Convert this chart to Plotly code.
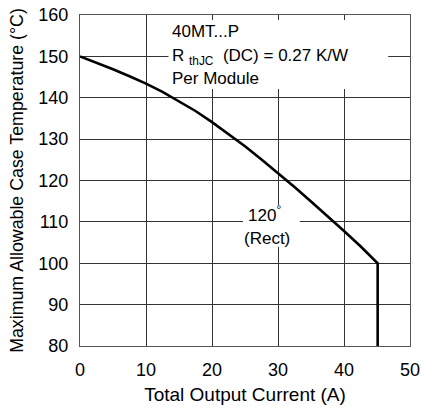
import plotly.graph_objects as go

current_a = [0, 2.5, 5, 7.5, 10, 12.5, 15, 17.5, 20, 22.5, 25, 27.5, 30, 32.5, 35, 37.5, 40, 42.5, 45.1, 45.1]
case_temp_c = [150, 148.5, 146.9, 145.2, 143.4, 141.4, 139.2, 136.8, 134.1, 131.3, 128.3, 125.1, 121.8, 118.4, 114.9, 111.4, 107.8, 104.1, 100, 80]

x_ticks = [0, 10, 20, 30, 40, 50]
y_ticks = [80, 90, 100, 110, 120, 130, 140, 150, 160]

FONT = "Liberation Sans, Arial, sans-serif"

fig = go.Figure()
fig.add_trace(go.Scatter(x=current_a, y=case_temp_c, mode="lines",
                         line=dict(color="black", width=2.6),
                         showlegend=False, hoverinfo="skip"))

fig.update_layout(
    width=422, height=412,
    margin=dict(l=80, r=12, t=15, b=66),
    paper_bgcolor="white", plot_bgcolor="white",
    font=dict(family=FONT, color="black"),
    xaxis=dict(range=[0, 50], tickvals=x_ticks, showgrid=True, gridcolor="#333",
               gridwidth=1, zeroline=False, showline=True, linecolor="#555",
               linewidth=1, mirror=True, ticks="outside", ticklen=7, tickcolor="white",
               tickfont=dict(size=18), automargin=False,
               title=dict(text="Total Output Current (A)", font=dict(size=19), standoff=9)),
    yaxis=dict(range=[80, 160], tickvals=y_ticks, showgrid=True, gridcolor="#333",
               gridwidth=1, zeroline=False, showline=True, linecolor="#555",
               linewidth=1, mirror=True, ticks="outside", ticklen=7, tickcolor="white",
               tickfont=dict(size=18), automargin=False,
               title=dict(text="Maximum Allowable Case Temperature (°C)",
                          font=dict(size=17.8), standoff=10)),
    shapes=[
        dict(type="rect", xref="x", yref="y", x0=13.4, x1=46.7, y0=142.1, y1=158.8,
             fillcolor="white", line=dict(width=0), layer="between"),
        dict(type="rect", xref="x", yref="y", x0=24.7, x1=33.3, y0=104.0, y1=114.1,
             fillcolor="white", line=dict(width=0), layer="between"),
    ],
    annotations=[
        dict(x=13.6, y=156.1, xref="x", yref="y", xanchor="left", yanchor="middle",
             text="40MT...P", showarrow=False, font=dict(size=17)),
        dict(x=13.6, y=149.8, xref="x", yref="y", xanchor="left", yanchor="middle",
             text="R <sub>thJC</sub>  (DC) = 0.27 K/W", showarrow=False, font=dict(size=17)),
        dict(x=13.6, y=144.6, xref="x", yref="y", xanchor="left", yanchor="middle",
             text="Per Module", showarrow=False, font=dict(size=17)),
        dict(x=28.0, y=112.0, xref="x", yref="y", xanchor="center", yanchor="middle",
             text="120<sup>°</sup>", showarrow=False, font=dict(size=17)),
        dict(x=28.4, y=106.1, xref="x", yref="y", xanchor="center", yanchor="middle",
             text="(Rect)", showarrow=False, font=dict(size=17)),
    ],
)

fig.write_html("out.html", config={"displayModeBar": False},
               post_script="document.body.style.margin='0';")
